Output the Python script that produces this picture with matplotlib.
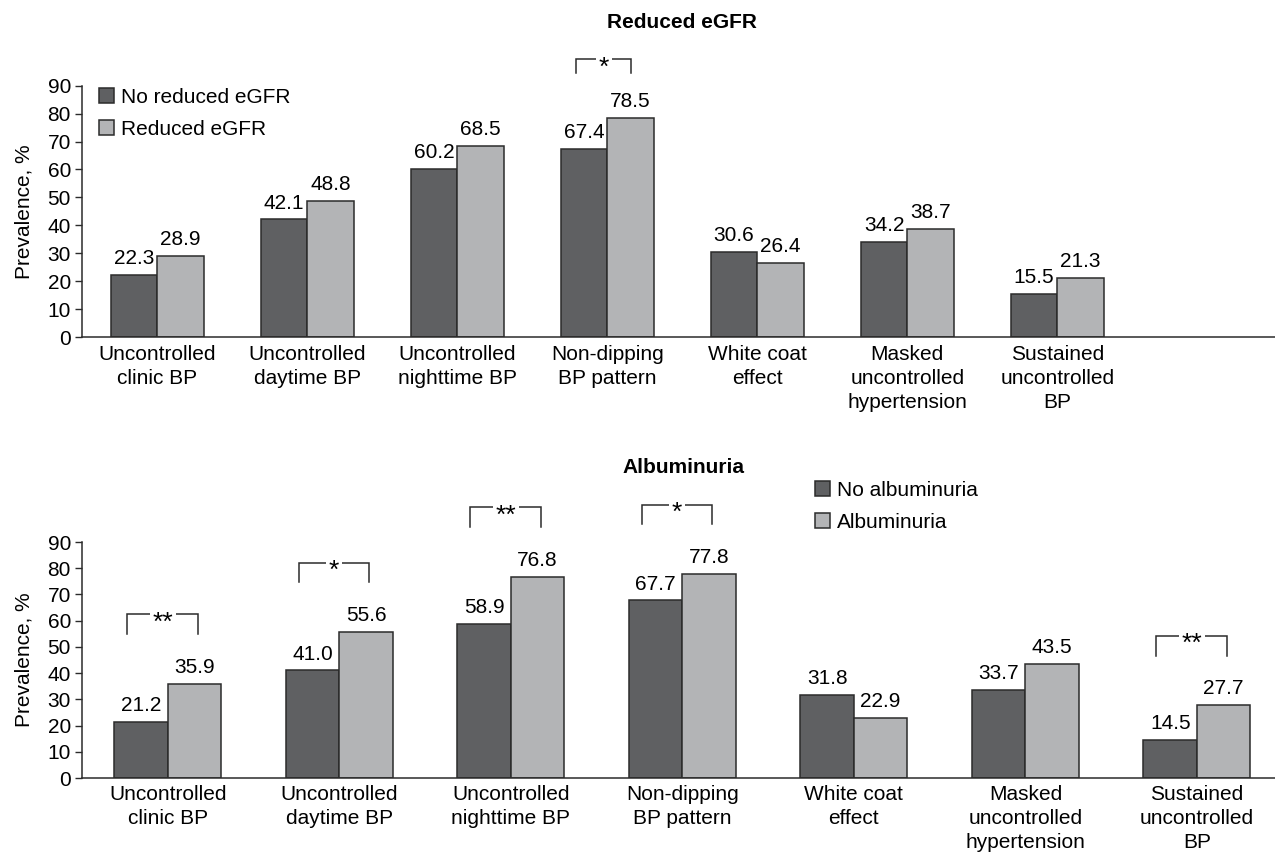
import matplotlib
matplotlib.use("Agg")
import matplotlib.pyplot as plt
import numpy as np

plt.rcParams['font.family'] = ['Liberation Sans', 'DejaVu Sans']

categories_top = ["Uncontrolled\nclinic BP", "Uncontrolled\ndaytime BP", "Uncontrolled\nnighttime BP",
                  "Non-dipping\nBP pattern", "White coat\neffect", "Masked\nuncontrolled\nhypertension",
                  "Sustained\nuncontrolled\nBP"]
categories_bottom = categories_top

no_reduced_egfr = [22.3, 42.1, 60.2, 67.4, 30.6, 34.2, 15.5]
reduced_egfr = [28.9, 48.8, 68.5, 78.5, 26.4, 38.7, 21.3]
egfr_sig = ["", "", "", "*", "", "", ""]

no_albuminuria = [21.2, 41.0, 58.9, 67.7, 31.8, 33.7, 14.5]
albuminuria = [35.9, 55.6, 76.8, 77.8, 22.9, 43.5, 27.7]
alb_sig = ["**", "*", "**", "*", "", "", "**"]

yticks = [0, 10, 20, 30, 40, 50, 60, 70, 80, 90]

DARK = "#5f6062"
LIGHT = "#b3b4b6"
EDGE = "#2b2b2b"
FS = 15

W, H = 1275, 858
fig = plt.figure(figsize=(W / 100, H / 100), dpi=100)


def px_axes(left, top, right, bottom):
    return fig.add_axes([left / W, 1 - bottom / H, (right - left) / W, (bottom - top) / H])


def draw_panel(ax, cats, s1, s2, names, sig, xmax, width, br_left, br_right, br_lo, br_hi, label_pad):
    x = np.arange(len(cats))
    b1 = ax.bar(x - width / 2, s1, width, color=DARK, edgecolor=EDGE, linewidth=1.1, label=names[0])
    b2 = ax.bar(x + width / 2, s2, width, color=LIGHT, edgecolor=EDGE, linewidth=1.1, label=names[1])
    for bars, vals in ((b1, s1), (b2, s2)):
        for rect, v in zip(bars, vals):
            ax.annotate(f"{v:.1f}", xy=(rect.get_x() + rect.get_width() / 2, v),
                        xytext=(0, 5), textcoords="offset points",
                        ha="center", va="bottom", fontsize=FS)
    ax.set_xlim(-0.5, xmax)
    ax.set_ylim(0, 90)
    ax.set_yticks(yticks)
    ax.set_xticks(x)
    ax.set_xticklabels(cats, fontsize=FS, linespacing=1.32)
    ax.tick_params(axis="x", length=0, pad=label_pad)
    ax.tick_params(axis="y", length=5, width=1.0, pad=3, labelsize=FS, color=EDGE)
    for sp in ("top", "right"):
        ax.spines[sp].set_visible(False)
    for sp in ("left", "bottom"):
        ax.spines[sp].set_linewidth(1.1)
        ax.spines[sp].set_color(EDGE)
    ax.set_ylabel("Prevalence, %", fontsize=FS, labelpad=10)
    # significance brackets
    for i, s in enumerate(sig):
        if not s:
            continue
        top = max(s1[i], s2[i])
        xl, xr = i + br_left, i + br_right
        ylo, yhi = top + br_lo, top + br_hi
        ax.plot([xl, xl, xr, xr], [ylo, yhi, yhi, ylo], color=EDGE, lw=1.1,
                clip_on=False, solid_joinstyle="miter")
        ax.annotate(s, xy=((xl + xr) / 2, yhi), xytext=(0, -11), textcoords="offset points",
                    ha="center", va="baseline", fontsize=19, annotation_clip=False,
                    bbox=dict(boxstyle="square,pad=0.1", fc="white", ec="none"))
    return ax


# Top panel
ax1 = px_axes(82, 85.7, 1275, 337)
draw_panel(ax1, categories_top, no_reduced_egfr, reduced_egfr,
           ["No reduced eGFR", "Reduced eGFR"], egfr_sig,
           xmax=7.45, width=0.31, br_left=-0.207, br_right=0.16, br_lo=16, br_hi=21, label_pad=6)
fig.text(682 / W, 1 - 23 / H, "Reduced eGFR", ha="center", va="center", fontsize=FS, fontweight="bold")
ax1.legend(loc="upper left", bbox_to_anchor=(99 / W, 1 - 88 / H), bbox_transform=fig.transFigure,
           frameon=False, fontsize=FS, handlelength=0.7, handleheight=0.7, handletextpad=0.35,
           labelspacing=0.62, borderpad=0, borderaxespad=0)

# Bottom panel
ax2 = px_axes(82, 542, 1275, 778)
draw_panel(ax2, categories_bottom, no_albuminuria, albuminuria,
           ["No albuminuria", "Albuminuria"], alb_sig,
           xmax=6.455, width=0.312, br_left=-0.236, br_right=0.175, br_lo=19, br_hi=26.5, label_pad=5)
fig.text(683 / W, 1 - 468 / H, "Albuminuria", ha="center", va="center", fontsize=FS, fontweight="bold")
ax2.legend(loc="upper left", bbox_to_anchor=(815 / W, 1 - 481 / H), bbox_transform=fig.transFigure,
           frameon=False, fontsize=FS, handlelength=0.7, handleheight=0.7, handletextpad=0.35,
           labelspacing=0.62, borderpad=0, borderaxespad=0)

fig.savefig("out.png", dpi=100)
